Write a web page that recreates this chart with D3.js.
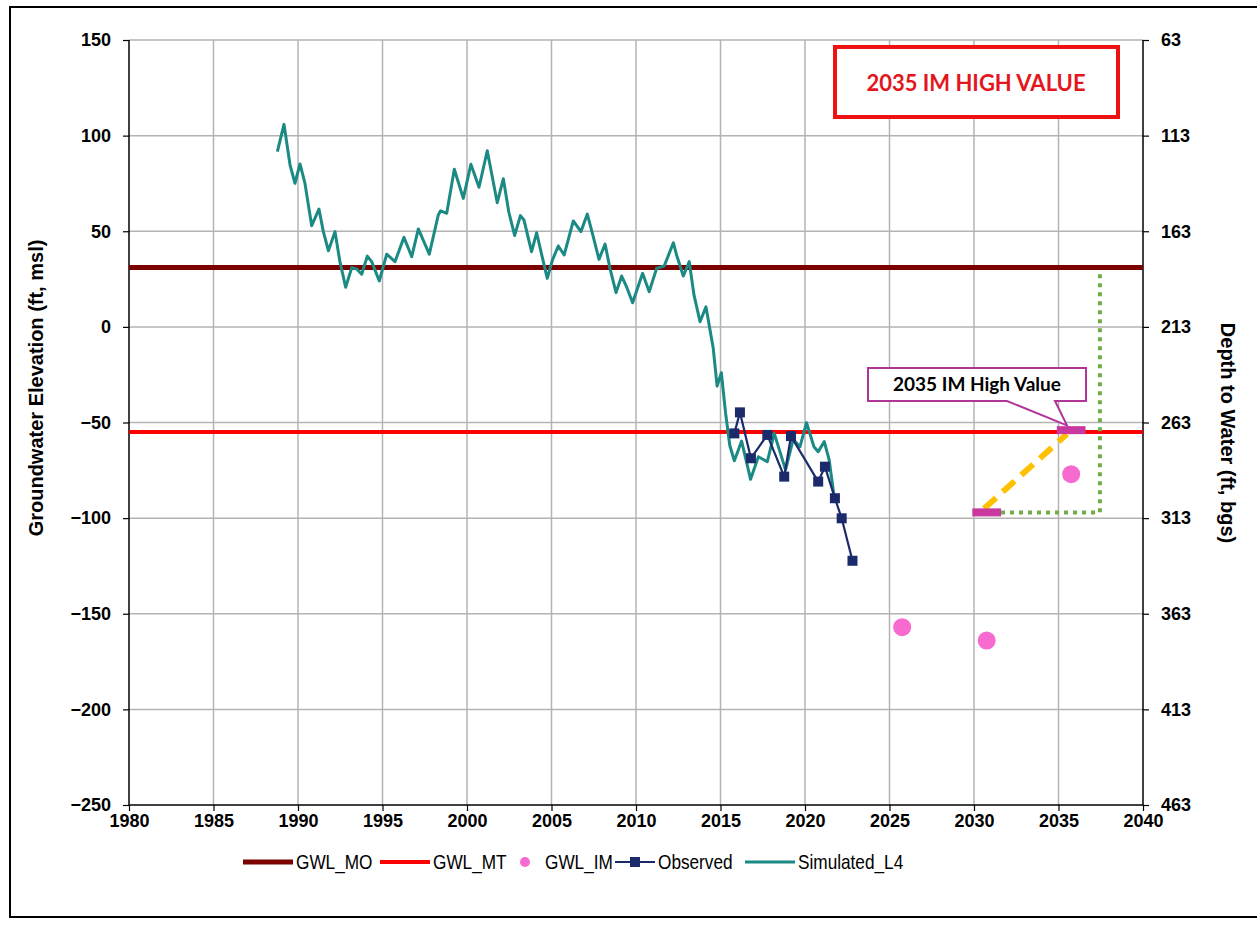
<!DOCTYPE html>
<html><head><meta charset="utf-8">
<script src="https://cdn.jsdelivr.net/npm/d3@7"></script>
<style>body{margin:0;background:#fff}svg{display:block}</style>
</head><body>
<svg id="c" width="1257" height="930"></svg>
<script>
// ---- data ----
const xTicks = [1980,1985,1990,1995,2000,2005,2010,2015,2020,2025,2030,2035,2040];
const yTicks = [150,100,50,0,-50,-100,-150,-200,-250];
const depthTicks = [63,113,163,213,263,313,363,413,463];
const gwlMO = 31;
const gwlMT = -55;
const imYears = [2025.75, 2030.75, 2035.75];
const imValues = [-157, -164, -77];
const obsYears = [2015.82,2016.15,2016.8,2017.77,2018.77,2019.17,2020.78,2021.18,2021.77,2022.17,2022.81];
const obsValues = [-55.7,-44.7,-68.7,-56.5,-78.3,-57.1,-80.9,-73.1,-89.6,-100.1,-122.3];
const simYears = [1988.78,1989.17,1989.53,1989.82,1990.12,1990.41,1990.81,1991.24,1991.5,1991.8,1992.19,1992.48,1992.82,1993.18,1993.47,1993.77,1994.1,1994.36,1994.81,1995.25,1995.74,1996.27,1996.73,1997.12,1997.77,1998.3,1998.44,1998.8,1999.25,1999.78,2000.23,2000.71,2001.2,2001.79,2002.15,2002.47,2002.82,2003.16,2003.37,2003.82,2004.12,2004.47,2004.75,2005.06,2005.4,2005.75,2006.29,2006.74,2007.12,2007.47,2007.81,2008.17,2008.46,2008.82,2009.15,2009.44,2009.8,2010.39,2010.78,2011.22,2011.67,2012.21,2012.4,2012.8,2013.15,2013.43,2013.79,2014.14,2014.57,2014.8,2015.05,2015.3,2015.55,2015.82,2016.25,2016.78,2017.24,2017.77,2018.18,2018.85,2019.3,2019.7,2020.09,2020.53,2020.78,2021.14,2021.43,2021.71];
const simValues = [91.6,105.9,84.6,75.1,85.2,75.1,52.9,61.6,49.8,39.8,49.8,34.1,20.7,31.0,30.3,27.5,37.0,34.1,24.0,38.0,34.1,46.8,36.7,51.2,38.0,58.5,60.7,59.4,82.4,67.2,85.0,73.0,92.1,64.9,77.5,60.2,47.8,58.2,55.9,39.3,49.2,35.8,25.4,35.0,42.3,37.6,55.4,49.8,59.0,47.2,35.3,43.3,30.6,17.9,26.6,21.0,12.6,28.0,18.4,30.6,31.8,44.0,37.6,26.6,34.1,16.7,2.7,10.5,-11.2,-31,-24,-45,-62,-70,-59.7,-79.7,-67.9,-70.5,-55.7,-74.8,-58.8,-62.7,-50.1,-62.7,-65.3,-60.0,-69.6,-87.9];
// annotation values
const lowBarYears = [2029.9, 2031.6], lowBarValue = -97;
const highBarYears = [2034.9, 2036.6], highBarValue = -54;
const trendYears = [2030.6, 2035.5], trendValues = [-95, -56];
const guideYears = [2031.6, 2037.45, 2037.45], guideValues = [-97, -97, 29];
const legendLabels = ["GWL_MO","GWL_MT","GWL_IM","Observed","Simulated_L4"];

// ---- layout ----
const svg = d3.select("#c");
const L = 129, R = 1143, T = 40, B = 805;
const x = d3.scaleLinear().domain([1980,2040]).range([L,R]);
const y = d3.scaleLinear().domain([-250,150]).range([B,T]);
const y2 = d3.scaleLinear().domain([463,63]).range([B,T]);

const C = {mo:"#7b0000", mt:"#ff0000", im:"#f76bd0", obs:"#1b2a6b", sim:"#1c8a84", grid:"#b3b3b3"};
const tickFont = "'Liberation Sans', Arial, sans-serif";
const cal = "Lato, 'Open Sans', sans-serif";

// outer border
svg.append("rect").attr("x",10).attr("y",7).attr("width",1260).attr("height",910)
  .attr("fill","none").attr("stroke","#000").attr("stroke-width",2);

// grid
const g = svg.append("g");
g.selectAll("line.vg").data(xTicks.slice(1,-1)).join("line")
  .attr("x1",d=>x(d)).attr("x2",d=>x(d)).attr("y1",T).attr("y2",B)
  .attr("stroke",C.grid).attr("stroke-width",1.5);
g.selectAll("line.hg").data(yTicks.slice(0,-1)).join("line")
  .attr("x1",L).attr("x2",R).attr("y1",d=>y(d)).attr("y2",d=>y(d))
  .attr("stroke",C.grid).attr("stroke-width",1.5);

// axes
const axL = svg.append("g").attr("transform",`translate(${L},0)`)
  .call(d3.axisLeft(y).tickValues(yTicks).tickSize(6).tickPadding(12).tickFormat(d3.format("d")));
const axB = svg.append("g").attr("transform",`translate(0,${B})`)
  .call(d3.axisBottom(x).tickValues(xTicks).tickSize(6).tickPadding(3).tickFormat(d3.format("d")));
const axR = svg.append("g").attr("transform",`translate(${R},0)`)
  .call(d3.axisRight(y2).tickValues(depthTicks).tickSize(6).tickPadding(12).tickFormat(d3.format("d")));
[axL,axB,axR].forEach(a=>{
  a.selectAll("path").attr("stroke","#000").attr("stroke-width",1.5);
  a.selectAll("line").attr("stroke","#000").attr("stroke-width",1.2);
  a.selectAll("text").attr("font-family",tickFont).attr("font-weight","bold").attr("font-size",18).attr("fill","#000");
});
axL.select(".domain").attr("d",`M0,${T}V${B}`);
axR.select(".domain").attr("d",`M0,${T}V${B}`);
axB.select(".domain").attr("d",`M${L},0H${R}`);

// axis titles
svg.append("text").attr("transform",`translate(43,388) rotate(-90)`).attr("text-anchor","middle")
  .attr("font-family",tickFont).attr("font-weight","bold").attr("font-size",20).text("Groundwater Elevation (ft, msl)");
svg.append("text").attr("transform",`translate(1221,433) rotate(90)`).attr("text-anchor","middle")
  .attr("font-family",tickFont).attr("font-weight","bold").attr("font-size",20).text("Depth to Water (ft, bgs)");

// MO / MT lines
svg.append("line").attr("x1",L).attr("x2",R).attr("y1",y(gwlMO)).attr("y2",y(gwlMO))
  .attr("stroke",C.mo).attr("stroke-width",5);
svg.append("line").attr("x1",L).attr("x2",R).attr("y1",y(gwlMT)).attr("y2",y(gwlMT))
  .attr("stroke",C.mt).attr("stroke-width",4);

// simulated
const line = d3.line().x(d=>x(d[0])).y(d=>y(d[1]));
svg.append("path").datum(simYears.map((t,i)=>[t,simValues[i]]))
  .attr("d",line).attr("fill","none").attr("stroke",C.sim).attr("stroke-width",3).attr("stroke-linejoin","round");

// observed
const obs = obsYears.map((t,i)=>[t,obsValues[i]]);
svg.append("path").datum(obs).attr("d",line).attr("fill","none").attr("stroke",C.obs).attr("stroke-width",2.2);
svg.selectAll("rect.obs").data(obs).join("rect")
  .attr("x",d=>x(d[0])-5).attr("y",d=>y(d[1])-5).attr("width",10).attr("height",10).attr("fill",C.obs);

// IM points
svg.selectAll("circle.im").data(imYears.map((t,i)=>[t,imValues[i]])).join("circle")
  .attr("cx",d=>x(d[0])).attr("cy",d=>y(d[1])).attr("r",9).attr("fill",C.im);

// annotation: guide (green dotted)
svg.append("path").datum(guideYears.map((t,i)=>[t,guideValues[i]])).attr("d",line)
  .attr("fill","none").attr("stroke","#70ad47").attr("stroke-width",4).attr("stroke-dasharray","4,5");
// orange dashed trend
svg.append("path").datum(trendYears.map((t,i)=>[t,trendValues[i]])).attr("d",line)
  .attr("fill","none").attr("stroke","#ffc000").attr("stroke-width",6).attr("stroke-dasharray","16,9");
// magenta bars
[[lowBarYears,lowBarValue],[highBarYears,highBarValue]].forEach(([yrs,v])=>{
  svg.append("line").attr("x1",x(yrs[0])).attr("x2",x(yrs[1])).attr("y1",y(v)).attr("y2",y(v))
    .attr("stroke","#c8389e").attr("stroke-width",8);
});

// callout
const cb = {l:868,r:1086,t:368,b:401};
const tip = [x(2035.5), y(-51.5)];
svg.append("path").attr("d",`M${cb.l},${cb.t}H${cb.r}V${cb.b}H1055L${tip[0]},${tip[1]}L1007,${cb.b}H${cb.l}Z`)
  .attr("fill","#fff").attr("stroke","#b0359a").attr("stroke-width",2);
svg.append("text").attr("x",(cb.l+cb.r)/2).attr("y",391).attr("text-anchor","middle")
  .attr("font-family",cal).attr("font-weight","bold").attr("font-size",19).text("2035 IM High Value");

// title box
svg.append("rect").attr("x",835).attr("y",47).attr("width",283).attr("height",70)
  .attr("fill","#fff").attr("stroke","#ee1111").attr("stroke-width",4);
svg.append("text").attr("x",976).attr("y",91).attr("text-anchor","middle")
  .attr("font-family",cal).attr("font-weight","bold").attr("font-size",22)
  .attr("fill","#e3161d").text("2035 IM HIGH VALUE");

// legend
const lg = svg.append("g");
const items = [
  {x:243, type:"line", color:C.mo, w:5},
  {x:380, type:"line", color:C.mt, w:4},
  {x:515, type:"dot", color:C.im},
  {x:615, type:"marker", color:C.obs},
  {x:745, type:"line", color:C.sim, w:3}
];
items.forEach((it,i)=>{
  const yy = 862;
  if(it.type==="line"){
    lg.append("line").attr("x1",it.x).attr("x2",it.x+50).attr("y1",yy).attr("y2",yy).attr("stroke",it.color).attr("stroke-width",it.w);
  } else if(it.type==="dot"){
    lg.append("circle").attr("cx",it.x+10).attr("cy",yy).attr("r",5).attr("fill",it.color);
  } else {
    lg.append("line").attr("x1",it.x).attr("x2",it.x+40).attr("y1",yy).attr("y2",yy).attr("stroke",it.color).attr("stroke-width",2.2);
    lg.append("rect").attr("x",it.x+15).attr("y",yy-5).attr("width",10).attr("height",10).attr("fill",it.color);
  }
  const tx = it.type==="line" ? it.x+53 : it.type==="dot" ? it.x+30 : it.x+43;
  lg.append("text").attr("transform",`translate(${tx},${yy+7}) scale(0.82,1)`)
    .attr("font-family",tickFont).attr("font-size",21).attr("fill","#000").text(legendLabels[i]);
});
</script>
</body></html>
